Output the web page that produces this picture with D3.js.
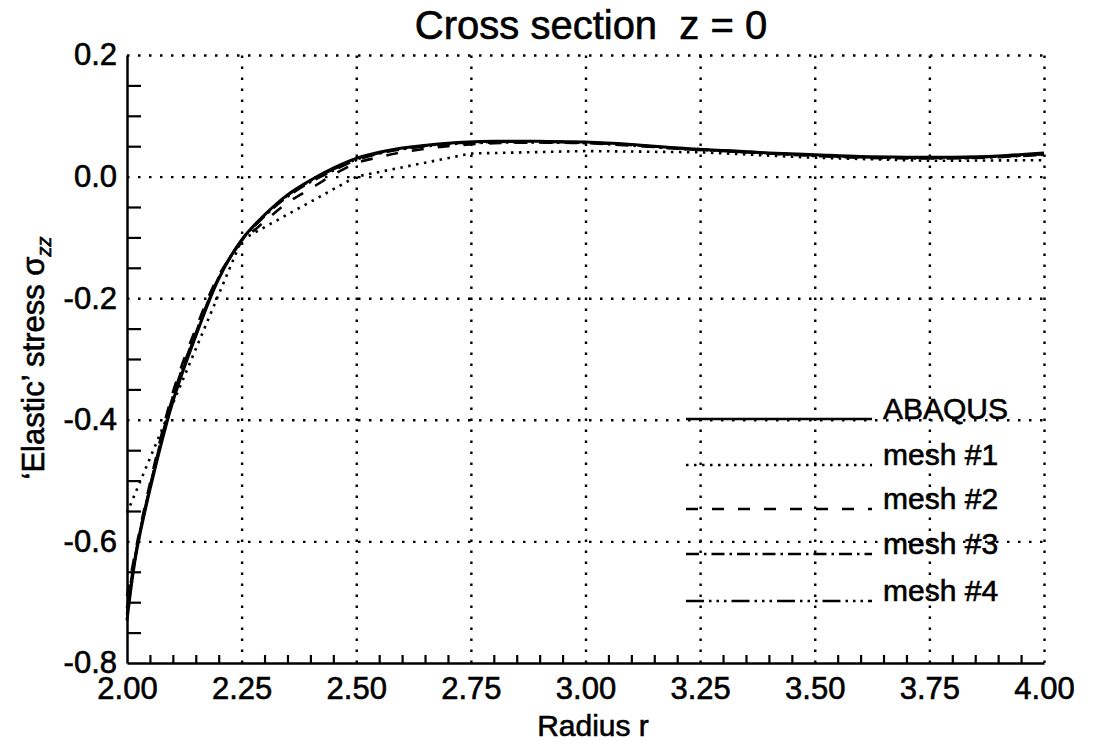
<!DOCTYPE html>
<html>
<head>
  <title>Cross section z = 0</title>
  <script src="https://d3js.org/d3.v7.min.js"></script>
  <style>
    body { margin: 0; background: #fff; font-family: "Liberation Sans", Arial, Helvetica, sans-serif; }
    svg text { fill: #000; stroke: #000; stroke-width: 0.6; }
    .grid line { stroke: #000; stroke-width: 2.4; stroke-dasharray: 2.5,8.5; }
    .grid path { display: none; }
  </style>
</head>
<body>
<div id="chart"></div>
<script>
// data
const rAll = [2.00, 2.02, 2.05, 2.10, 2.15, 2.20, 2.25, 2.30, 2.35, 2.40, 2.45, 2.50, 2.55, 2.60, 2.70, 2.80, 2.90, 3.00, 3.10, 3.20, 3.30, 3.40, 3.50, 3.60, 3.70, 3.80, 3.90, 4.00];
const abaqus = [-0.73, -0.62, -0.515, -0.37, -0.262, -0.168, -0.104, -0.063, -0.03, -0.006, 0.014, 0.030, 0.040, 0.047, 0.055, 0.058, 0.058, 0.057, 0.053, 0.047, 0.043, 0.039, 0.036, 0.033, 0.032, 0.032, 0.034, 0.039];
const mesh2 = [-0.69, -0.61, -0.505, -0.355, -0.25, -0.163, -0.108, -0.074, -0.043, -0.02, 0.003, 0.022, 0.032, 0.040, 0.050, 0.055, 0.056, 0.056, 0.052, 0.047, 0.043, 0.039, 0.035, 0.032, 0.031, 0.031, 0.033, 0.037];
const mesh3 = [-0.71, -0.615, -0.51, -0.362, -0.257, -0.166, -0.105, -0.065, -0.033, -0.009, 0.010, 0.027, 0.038, 0.045, 0.053, 0.056, 0.056, 0.055, 0.051, 0.046, 0.042, 0.038, 0.034, 0.031, 0.030, 0.030, 0.032, 0.036];
const mesh4 = [-0.72, -0.618, -0.512, -0.366, -0.259, -0.167, -0.105, -0.064, -0.031, -0.007, 0.012, 0.028, 0.039, 0.046, 0.054, 0.057, 0.057, 0.056, 0.052, 0.046, 0.042, 0.038, 0.035, 0.032, 0.031, 0.031, 0.033, 0.037];
const rMesh1 = [2.00, 2.25, 2.50, 2.75, 3.00, 3.25, 3.50, 3.75, 4.00];
const mesh1 = [-0.553, -0.104, 0.0, 0.038, 0.042, 0.040, 0.031, 0.026, 0.027];

const xTicks = [2.00, 2.25, 2.50, 2.75, 3.00, 3.25, 3.50, 3.75, 4.00];
const yTicks = [-0.8, -0.6, -0.4, -0.2, 0.0, 0.2];
const legendLabels = ["ABAQUS", "mesh #1", "mesh #2", "mesh #3", "mesh #4"];

const W = 1101, H = 744;
const dashes = [null, "2.5,5.5", "12,14", "13,5,2.5,5", "18,5,2.5,5,2.5,5,2.5,5"];

const svg = d3.select("#chart").append("svg")
  .attr("width", W).attr("height", H);

const x = d3.scaleLinear().domain([2, 4]).range([127, 1044]);
const y = d3.scaleLinear().domain([-0.8, 0.2]).range([663, 55]);

// dotted grid
svg.append("g").attr("class", "grid")
  .attr("transform", `translate(0,${y(-0.8)})`)
  .call(d3.axisBottom(x).tickValues(xTicks.slice(1)).tickSize(-(y(-0.8) - y(0.2))).tickFormat(""));
svg.append("g").attr("class", "grid")
  .attr("transform", `translate(${x(2)},0)`)
  .call(d3.axisLeft(y).tickValues(yTicks.slice(1)).tickSize(-(x(4) - x(2))).tickFormat(""));

// minor ticks
const xMinor = d3.range(2.05, 4.0, 0.05).filter(v => Math.abs(v * 4 - Math.round(v * 4)) > 0.01);
const yMinor = d3.range(-0.75, 0.2, 0.05).filter(v => Math.abs(v * 5 - Math.round(v * 5)) > 0.01);

const xAx = svg.append("g").attr("transform", `translate(0,${y(-0.8)})`)
  .call(d3.axisBottom(x).tickValues(xMinor).tickSize(-8).tickSizeOuter(0).tickFormat(""));
const yAx = svg.append("g").attr("transform", `translate(${x(2)},0)`)
  .call(d3.axisLeft(y).tickValues(yMinor).tickSize(-14).tickSizeOuter(0).tickFormat(""));
[xAx, yAx].forEach(g => {
  g.selectAll("line").attr("stroke", "#000").attr("stroke-width", 2.2);
  g.select(".domain").attr("stroke", "#000").attr("stroke-width", 2.5);
});

// tick labels
svg.append("g").attr("transform", `translate(0,${y(-0.8)})`)
  .call(d3.axisBottom(x).tickValues(xTicks).tickSize(0).tickPadding(14).tickFormat(d3.format(".2f")))
  .call(g => g.select(".domain").remove())
  .selectAll("text").attr("font-size", 31).attr("font-family", "Liberation Sans, Arial, sans-serif").attr("fill", "#000");
svg.append("g").attr("transform", `translate(${x(2)},0)`)
  .call(d3.axisLeft(y).tickValues(yTicks).tickSize(0).tickPadding(10).tickFormat(d => d3.format(".1f")(d).replace("−", "-")))
  .call(g => g.select(".domain").remove())
  .selectAll("text").attr("font-size", 31).attr("font-family", "Liberation Sans, Arial, sans-serif").attr("fill", "#000");

// titles
svg.append("text").attr("x", 591).attr("y", 39).attr("text-anchor", "middle")
  .attr("font-size", 40).style("white-space", "pre").text("Cross section  z = 0");
svg.append("text").attr("x", 593).attr("y", 736).attr("text-anchor", "middle")
  .attr("font-size", 30).text("Radius r");
const yt = svg.append("text").attr("transform", "translate(44,358) rotate(-90)")
  .attr("text-anchor", "middle").attr("font-size", 31);
yt.append("tspan").text("\u2018Elastic\u2019 stress \u03c3");
yt.append("tspan").attr("font-size", 20).attr("dy", 7).attr("font-style", "italic").text("zz");

// curves
const line = d3.line().x(d => x(d[0])).y(d => y(d[1])).curve(d3.curveCatmullRom.alpha(0.5));
const lin = d3.line().x(d => x(d[0])).y(d => y(d[1]));
const series = [
  { pts: d3.zip(rAll, abaqus), gen: line, dash: dashes[0] },
  { pts: d3.zip(rMesh1, mesh1), gen: lin, dash: dashes[1] },
  { pts: d3.zip(rAll, mesh2), gen: line, dash: dashes[2] },
  { pts: d3.zip(rAll, mesh3), gen: line, dash: dashes[3] },
  { pts: d3.zip(rAll, mesh4), gen: line, dash: dashes[4] }
];
svg.append("g").selectAll("path").data(series).join("path")
  .attr("d", s => s.gen(s.pts))
  .attr("fill", "none").attr("stroke", "#000")
  .attr("stroke-width", (s, i) => i === 0 ? 3 : 2.6)
  .attr("stroke-dasharray", s => s.dash);

// legend
const legY = [419, 465, 509, 554, 601];
const leg = svg.append("g").selectAll("g").data(legendLabels).join("g")
  .attr("transform", (d, i) => `translate(0,${legY[i]})`);
leg.append("line").attr("x1", 686).attr("x2", 872)
  .attr("stroke", "#000").attr("stroke-width", 2.5)
  .attr("stroke-dasharray", (d, i) => dashes[i]);
leg.append("text").attr("x", 883).attr("y", 0).attr("font-size", 30).text(d => d);
</script>
</body>
</html>
